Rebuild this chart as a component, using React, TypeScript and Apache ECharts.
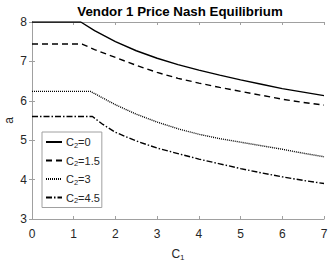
import React, { useEffect, useRef } from "react";
import * as echarts from "echarts";

const seriesNames = ["C2=0", "C2=1.5", "C2=3", "C2=4.5"];
const legendValues = ["0", "1.5", "3", "4.5"];

const x0 = [0, 1.17, 1.5, 2, 2.5, 3, 3.5, 4, 4.5, 5, 5.5, 6, 6.5, 7];
const a0 = [8, 8, 7.78, 7.5, 7.27, 7.08, 6.92, 6.78, 6.65, 6.53, 6.42, 6.31, 6.22, 6.13];

const x15 = [0, 1.2, 1.5, 2, 2.5, 3, 3.5, 4, 4.5, 5, 5.5, 6, 6.5, 7];
const a15 = [7.44, 7.44, 7.3, 7.1, 6.9, 6.72, 6.57, 6.45, 6.34, 6.24, 6.14, 6.04, 5.96, 5.89];

const x3 = [0, 1.4, 1.7, 2, 2.5, 3, 3.5, 4, 4.5, 5, 5.5, 6, 6.5, 7];
const a3 = [6.24, 6.24, 6.07, 5.9, 5.66, 5.46, 5.29, 5.15, 5.04, 4.95, 4.86, 4.77, 4.67, 4.58];

const x45 = [0, 1.45, 1.7, 2, 2.5, 3, 3.5, 4, 4.5, 5, 5.5, 6, 6.5, 7];
const a45 = [5.6, 5.6, 5.4, 5.2, 4.98, 4.8, 4.66, 4.52, 4.4, 4.28, 4.17, 4.07, 3.98, 3.9];

const xs = [x0, x15, x3, x45];
const ys = [a0, a15, a3, a45];
const dashTypes: any[] = ["solid", [6, 4], [1, 1], [6, 2, 1.5, 2]];

const FONT = "'Liberation Sans', Arial, Helvetica, sans-serif";
const AXIS_COLOR = "#a0a0a0";
const LABEL_COLOR = "#262626";

export default function App() {
  const ref = useRef<HTMLDivElement>(null);
  useEffect(() => {
    if (!ref.current) return;
    const chart = echarts.init(ref.current, undefined, { renderer: "svg" });
    const axisCommon = {
      axisLine: { show: true, lineStyle: { color: AXIS_COLOR, width: 1 } },
      axisTick: { show: true, inside: true, length: 3, lineStyle: { color: AXIS_COLOR } },
      splitLine: { show: false },
    };
    const richAxis = {
      n: { fontSize: 12, fontFamily: FONT, color: LABEL_COLOR, lineHeight: 14 },
      s: { fontSize: 8, fontFamily: FONT, color: LABEL_COLOR, padding: [7, 0, 0, 0], lineHeight: 14 },
    };
    const richLegend = {
      n: { fontSize: 11, fontFamily: FONT, color: LABEL_COLOR, lineHeight: 12 },
      s: { fontSize: 7.5, fontFamily: FONT, color: LABEL_COLOR, padding: [6, 0, 0, 0], lineHeight: 12 },
    };
    const option: any = {
      animation: false,
      backgroundColor: "#fff",
      textStyle: { fontFamily: FONT },
      title: {
        text: "Vendor 1 Price Nash Equilibrium",
        left: 175,
        textAlign: "center",
        top: 0,
        textStyle: { fontFamily: FONT, fontSize: 13.3, fontWeight: "bold", color: "#000" },
      },
      grid: {
        left: 32,
        right: 9,
        top: 22,
        bottom: 42,
        containLabel: false,
        outerBoundsMode: "none",
      },
      legend: {
        orient: "vertical",
        left: 42,
        top: 132,
        data: seriesNames,
        itemStyle: { opacity: 0 },
        backgroundColor: "#fff",
        borderColor: "#a0a0a0",
        borderWidth: 1,
        borderRadius: 0,
        padding: [3, 2, 3, 3],
        itemWidth: 16,
        itemHeight: 10,
        itemGap: 4.5,
        formatter: (name: string) => {
          const i = seriesNames.indexOf(name);
          return `{n|C}{s|2}{n|=${legendValues[i]}}`;
        },
        textStyle: {
          fontFamily: FONT,
          color: LABEL_COLOR,
          padding: [0, 0, 0, -1],
          rich: richLegend,
        },
      },
      xAxis: [
        {
          type: "value",
          min: 0,
          max: 7,
          interval: 1,
          position: "bottom",
          ...axisCommon,
          axisLabel: { show: true, color: LABEL_COLOR, fontSize: 12, fontFamily: FONT, margin: 9 },
          name: "{n|C}{s|1}",
          nameLocation: "middle",
          nameGap: 28,
          nameMoveOverlap: false,
          nameTextStyle: { rich: richAxis },
        },
        {
          type: "value",
          min: 0,
          max: 7,
          interval: 1,
          position: "top",
          ...axisCommon,
          axisLabel: { show: false },
        },
      ],
      yAxis: [
        {
          type: "value",
          min: 3,
          max: 8,
          interval: 1,
          position: "left",
          ...axisCommon,
          axisLabel: { show: true, color: LABEL_COLOR, fontSize: 12, fontFamily: FONT, margin: 5 },
          name: "a",
          nameLocation: "middle",
          nameRotate: 90,
          nameGap: 17,
          nameMoveOverlap: false,
          nameTextStyle: { fontSize: 12, fontFamily: FONT, color: LABEL_COLOR },
        },
        {
          type: "value",
          min: 3,
          max: 8,
          interval: 1,
          position: "right",
          ...axisCommon,
          axisLabel: { show: false },
        },
      ],
      series: seriesNames.map((name, i) => ({
        name,
        type: "line",
        xAxisIndex: 0,
        yAxisIndex: 0,
        symbol: "none",
        smooth: false,
        data: xs[i].map((x, j) => [x, ys[i][j]]),
        lineStyle: { color: "#000", width: 1.4, type: dashTypes[i] },
        itemStyle: { color: "#000" },
      })),
    };
    chart.setOption(option);
    return () => chart.dispose();
  }, []);
  return (
    <div
      ref={ref}
      style={{ position: "fixed", left: 0, top: 0, width: 333, height: 261, background: "#fff" }}
    />
  );
}
